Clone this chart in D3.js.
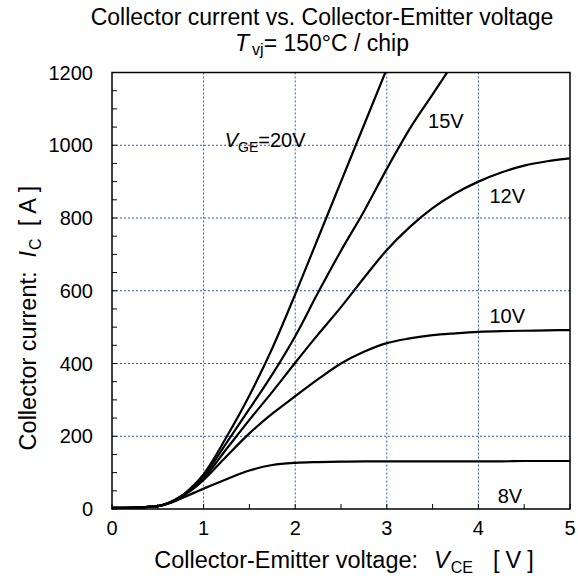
<!DOCTYPE html>
<html>
<head>
<meta charset="utf-8">
<script src="https://cdn.jsdelivr.net/npm/d3@7/dist/d3.min.js"></script>
<style>
  html, body { margin: 0; padding: 0; background: #fff; }
  svg { display: block; font-family: "Liberation Sans", Arial, Helvetica, sans-serif; }
</style>
</head>
<body>
<svg id="chart" width="578" height="581"></svg>
<script>
// Collector-emitter voltage samples [V]
const vce = [0, 0.25, 0.5, 0.6, 0.7, 0.8, 0.9, 1.0, 1.25, 1.5, 1.75, 2.0, 2.25, 2.5, 2.75,
             3.0, 3.25, 3.5, 3.75, 4.0, 4.25, 4.5, 4.75, 5.0];

// Collector current [A] for each gate-emitter voltage (null = off the top of the chart)
const ic20 = [3, 4, 8, 15, 27, 44, 67, 96, 198, 312, 442, 590, 745, 900, 1055,
              1210, null, null, null, null, null, null, null, null];
const ic15 = [3, 4, 8, 15, 27, 43, 65, 90, 182, 275, 370, 475, 595, 710, 818,
              935, 1045, 1140, 1235, null, null, null, null, null];
const ic12 = [3, 4, 8, 15, 26, 42, 62, 85, 165, 245, 322, 402, 480, 555, 635,
              712, 775, 827, 868, 900, 925, 944, 956, 964];
const ic10 = [3, 4, 8, 14, 25, 40, 58, 80, 145, 208, 262, 310, 357, 400, 432,
              456, 469, 478, 483, 487, 489, 490, 491, 492];
const ic8  = [3, 4, 8, 14, 23, 34, 45, 56, 82, 106, 121, 127, 129, 130, 131,
              131, 131, 131, 131, 131, 131, 132, 132, 132];

const series = [ic20, ic15, ic12, ic10, ic8];

// Tick values
const xTicks = [0, 1, 2, 3, 4, 5];
const yTicks = [0, 200, 400, 600, 800, 1000, 1200];
const xMinor = d3.range(0, 5.01, 0.5);
const yMinor = d3.range(0, 1201, 50);

// Curve labels: [text, subscript, suffix, V, A]
const curveLabels = [
  ["15V", null, null, 3.45, 1048],
  ["12V", null, null, 4.12, 842],
  ["10V", null, null, 4.12, 512],
  ["8V",  null, null, 4.21, 16],
  ["V", "GE", "=20V", 1.23, 996]
];

const svg = d3.select("#chart");
const plotL = 112, plotR = 570, plotT = 72.5, plotB = 509;

const x = d3.scaleLinear().domain([0, 5]).range([plotL, plotR]);
const y = d3.scaleLinear().domain([0, 1200]).range([plotB, plotT]);

// Grid
const gridColor = "#2d5cb8";
const grid = svg.append("g");
grid.selectAll("line.gx").data(xTicks.slice(1, -1)).join("line")
  .attr("x1", d => x(d)).attr("x2", d => x(d))
  .attr("y1", plotT).attr("y2", plotB)
  .attr("stroke", gridColor).attr("stroke-width", 1).attr("stroke-dasharray", "2,2");
grid.selectAll("line.gy").data(yTicks.slice(1, -1)).join("line")
  .attr("y1", d => y(d)).attr("y2", d => y(d))
  .attr("x1", plotL).attr("x2", plotR)
  .attr("stroke", gridColor).attr("stroke-width", 1).attr("stroke-dasharray", "2,2");

// Inward minor ticks
const ticks = svg.append("g").attr("stroke", "#000").attr("stroke-width", 1);
ticks.selectAll("line.tx").data(xMinor).join("line")
  .attr("x1", d => x(d)).attr("x2", d => x(d))
  .attr("y1", plotB).attr("y2", plotB - 5);
ticks.selectAll("line.ty").data(yMinor).join("line")
  .attr("y1", d => y(d)).attr("y2", d => y(d))
  .attr("x1", plotL).attr("x2", plotL + 5);

// Curves
svg.append("clipPath").attr("id", "plotClip")
  .append("rect").attr("x", plotL).attr("y", plotT)
  .attr("width", plotR - plotL).attr("height", plotB - plotT);

const line = d3.line()
  .defined(d => d[1] !== null)
  .x(d => x(d[0]))
  .y(d => y(d[1]))
  .curve(d3.curveMonotoneX);

svg.append("g").attr("clip-path", "url(#plotClip)")
  .selectAll("path").data(series).join("path")
  .attr("d", s => line(vce.map((v, i) => [v, s[i]])))
  .attr("fill", "none").attr("stroke", "#000").attr("stroke-width", 2.2)
  .attr("stroke-linejoin", "round");

// Frame
svg.append("rect").attr("x", plotL).attr("y", plotT)
  .attr("width", plotR - plotL).attr("height", plotB - plotT)
  .attr("fill", "none").attr("stroke", "#000").attr("stroke-width", 1.5);

// Tick labels
svg.append("g").selectAll("text").data(xTicks).join("text")
  .attr("x", d => x(d)).attr("y", 535)
  .attr("text-anchor", "middle").attr("font-size", 20).attr("fill", "#000")
  .text(d => d);
svg.append("g").selectAll("text").data(yTicks).join("text")
  .attr("x", 93).attr("y", d => y(d) + 7)
  .attr("text-anchor", "end").attr("font-size", 20).attr("fill", "#000")
  .text(d => d);

// Curve labels
curveLabels.forEach(([t, sub, suf, v, a]) => {
  const tx = svg.append("text").attr("x", x(v)).attr("y", y(a))
    .attr("font-size", 20).attr("fill", "#000");
  if (sub) {
    tx.append("tspan").attr("font-style", "italic").text(t);
    tx.append("tspan").attr("font-size", 14).attr("dy", 5).text(sub);
    tx.append("tspan").attr("dy", -5).text(suf);
  } else {
    tx.text(t);
  }
});

// Title
svg.append("text").attr("x", 322).attr("y", 25)
  .attr("text-anchor", "middle").attr("font-size", 23).attr("fill", "#000")
  .text("Collector current vs. Collector-Emitter voltage");
const t2 = svg.append("text").attr("x", 322).attr("y", 51)
  .attr("text-anchor", "middle").attr("font-size", 23).attr("fill", "#000");
t2.append("tspan").attr("font-style", "italic").text("T");
t2.append("tspan").attr("font-size", 16).attr("dy", 4).attr("dx", 3).text("vj");
t2.append("tspan").attr("dy", -4).text("= 150°C / chip");

// Axis titles: symbol with subscript, unit in brackets
function axisTitle(sel, label, sym, sub, unit, gapSym, gapUnit) {
  sel.append("tspan").text(label);
  sel.append("tspan").attr("dx", gapSym).attr("font-style", "italic").text(sym);
  sel.append("tspan").attr("dx", 1).attr("font-size", 16).attr("dy", 5).text(sub);
  sel.append("tspan").attr("dx", gapUnit).attr("dy", -5).text("[");
  sel.append("tspan").attr("dx", 6).text(unit);
  sel.append("tspan").attr("dx", 6).text("]");
}

const xt = svg.append("text").attr("x", 344).attr("y", 568)
  .attr("text-anchor", "middle").attr("font-size", 23.5).attr("fill", "#000");
axisTitle(xt, "Collector-Emitter voltage:", "V", "CE", "V", 16, 20);

const yt = svg.append("text")
  .attr("transform", "translate(36,318) rotate(-90)")
  .attr("text-anchor", "middle").attr("font-size", 23.5).attr("fill", "#000");
axisTitle(yt, "Collector current:", "I", "C", "A", 14, 12);
</script>
</body>
</html>
